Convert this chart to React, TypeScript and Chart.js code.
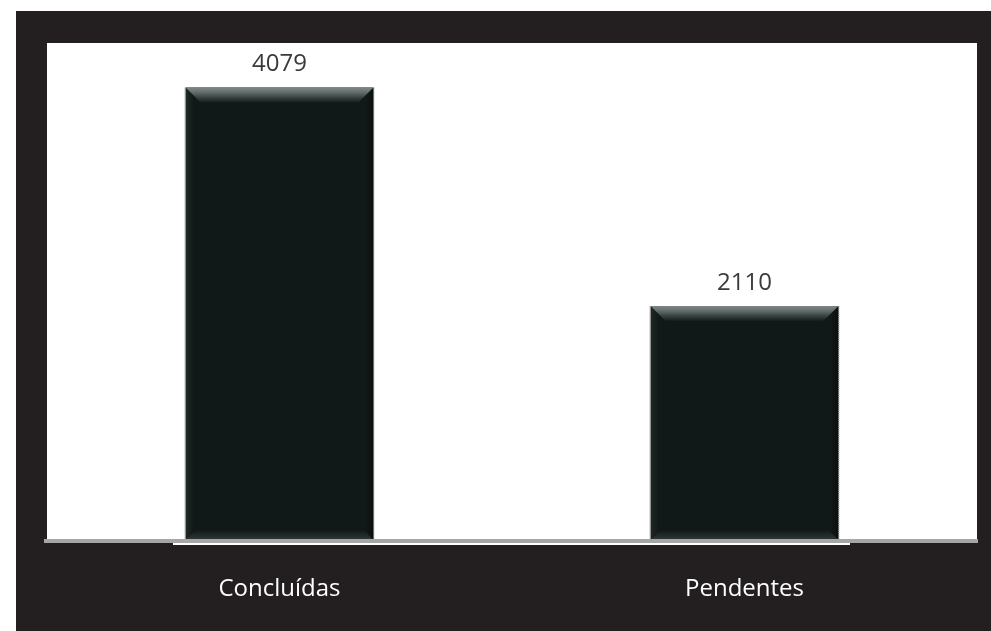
import React, { useEffect, useRef } from "react";
import { Chart, registerables } from "chart.js";

Chart.register(...registerables);

const categories: string[] = ["Concluídas", "Pendentes"];
const values: number[] = [4079, 2110];
const yMax = 4480;

const DARK = "#231f20";
const BAR = "#111918";
const FONT = "'Open Sans', 'DejaVu Sans', sans-serif";

const decorPlugin = {
  id: "decor",
  beforeDatasetsDraw(chart: any) {
    const { ctx, chartArea } = chart;
    ctx.save();
    ctx.fillStyle = "#ffffff";
    ctx.fillRect(chartArea.left, chartArea.top, chartArea.right - chartArea.left, chartArea.bottom - chartArea.top);
    ctx.restore();
  },
  afterDatasetsDraw(chart: any) {
    const { ctx, chartArea } = chart;
    const meta = chart.getDatasetMeta(0);
    ctx.save();
    meta.data.forEach((bar: any, i: number) => {
      const w = bar.width;
      const l = bar.x - w / 2;
      const r = bar.x + w / 2;
      const t = bar.y;
      const b = bar.base;
      const tb = 15;
      const bb = 10;
      const sb = 8;
      // left side bevel
      let g = ctx.createLinearGradient(l, 0, l + sb, 0);
      g.addColorStop(0, "#1e2928");
      g.addColorStop(1, BAR);
      ctx.fillStyle = g;
      ctx.beginPath();
      ctx.moveTo(l, t);
      ctx.lineTo(l + sb, t + sb);
      ctx.lineTo(l + sb, b - sb);
      ctx.lineTo(l, b);
      ctx.closePath();
      ctx.fill();
      // right side bevel
      g = ctx.createLinearGradient(r, 0, r - sb, 0);
      g.addColorStop(0, "#0a100f");
      g.addColorStop(1, BAR);
      ctx.fillStyle = g;
      ctx.beginPath();
      ctx.moveTo(r, t);
      ctx.lineTo(r - sb, t + sb);
      ctx.lineTo(r - sb, b - sb);
      ctx.lineTo(r, b);
      ctx.closePath();
      ctx.fill();
      // top bevel
      g = ctx.createLinearGradient(0, t, 0, t + tb);
      g.addColorStop(0, "#7d8786");
      g.addColorStop(0.3, "#66706f");
      g.addColorStop(0.65, "#3a4443");
      g.addColorStop(1, "#151d1c");
      ctx.fillStyle = g;
      ctx.beginPath();
      ctx.moveTo(l, t);
      ctx.lineTo(r, t);
      ctx.lineTo(r - tb, t + tb);
      ctx.lineTo(l + tb, t + tb);
      ctx.closePath();
      ctx.fill();
      // bottom bevel
      g = ctx.createLinearGradient(0, b, 0, b - bb);
      g.addColorStop(0, "#2f3a39");
      g.addColorStop(1, BAR);
      ctx.fillStyle = g;
      ctx.beginPath();
      ctx.moveTo(l, b);
      ctx.lineTo(r, b);
      ctx.lineTo(r - bb, b - bb);
      ctx.lineTo(l + bb, b - bb);
      ctx.closePath();
      ctx.fill();
      // edge lines
      ctx.strokeStyle = "#b8b8b8";
      ctx.lineWidth = 1;
      ctx.beginPath();
      ctx.moveTo(l - 0.5, t);
      ctx.lineTo(l - 0.5, b);
      ctx.stroke();
      ctx.setLineDash([1, 1]);
      ctx.strokeStyle = "#9a9a9a";
      ctx.beginPath();
      ctx.moveTo(r + 0.5, t);
      ctx.lineTo(r + 0.5, b);
      ctx.stroke();
      ctx.setLineDash([]);
      // value label
      ctx.fillStyle = "#3a3a3a";
      ctx.font = `24px ${FONT}`;
      ctx.textAlign = "center";
      ctx.textBaseline = "alphabetic";
      ctx.fillText(String(values[i]), bar.x, t - 16);
    });
    // baseline
    ctx.fillStyle = "#a6a6a6";
    ctx.fillRect(chartArea.left - 3, chartArea.bottom - 1, chartArea.right - chartArea.left + 4, 4);
    ctx.fillStyle = "#ffffff";
    ctx.fillRect(chartArea.left + 126, chartArea.bottom + 3, chartArea.right - chartArea.left - 253, 2);
    ctx.restore();
  },
};

export default function App() {
  const ref = useRef<HTMLCanvasElement | null>(null);

  useEffect(() => {
    document.body.style.margin = "0";
    if (!ref.current) return;
    const chart = new Chart(ref.current, {
      type: "bar",
      data: {
        labels: categories,
        datasets: [
          {
            data: values,
            backgroundColor: BAR,
            borderWidth: 0,
            barPercentage: 0.404,
            categoryPercentage: 1,
          },
        ],
      },
      options: {
        animation: false,
        responsive: false,
        maintainAspectRatio: false,
        devicePixelRatio: 1,
        layout: { padding: { left: 31, right: 14, top: 32, bottom: 0 } },
        plugins: { legend: { display: false }, tooltip: { enabled: false } },
        scales: {
          x: {
            grid: { display: false, drawTicks: false },
            border: { display: false },
            ticks: { color: "#ffffff", font: { family: FONT, size: 24 }, padding: 35 },
            afterFit: (s: any) => {
              s.height = 91;
            },
          },
          y: { display: false, min: 0, max: yMax },
        },
      },
      plugins: [decorPlugin],
    } as any);
    return () => chart.destroy();
  }, []);

  return (
    <div style={{ position: "relative", width: 991, height: 631, background: "#ffffff", overflow: "hidden" }}>
      <div style={{ position: "absolute", left: 16, top: 11, width: 975, height: 620, background: DARK }}>
        <canvas ref={ref} width={975} height={620} style={{ display: "block", width: 975, height: 620 }} />
      </div>
    </div>
  );
}
